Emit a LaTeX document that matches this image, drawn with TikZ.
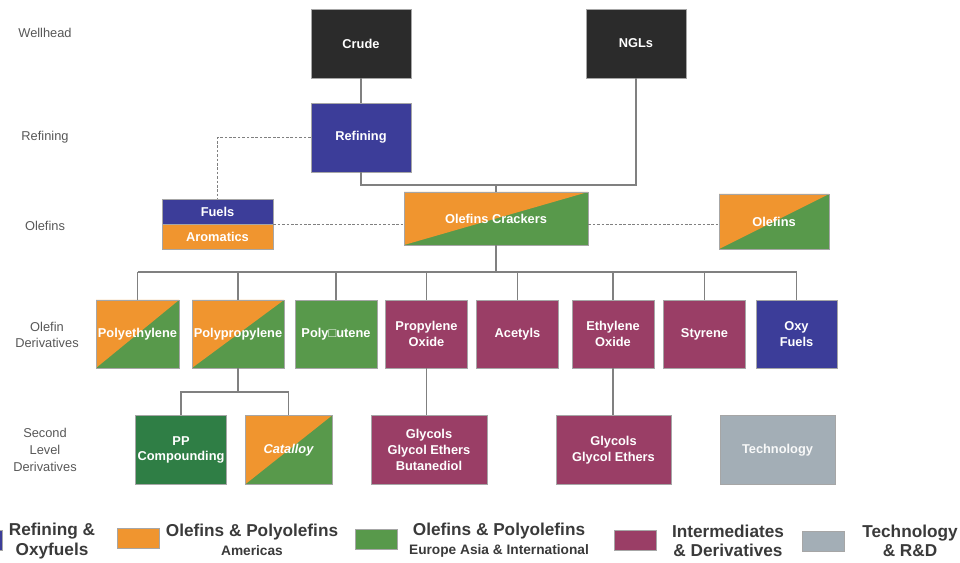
\documentclass[tikz,border=0pt]{standalone}
\usepackage{fontspec}
\setmainfont{Liberation Sans}
\usepackage{xcolor}
\usetikzlibrary{positioning}

\definecolor{cblack}{HTML}{2B2B2B}
\definecolor{cblue}{HTML}{3C3D99}
\definecolor{corange}{HTML}{F0952F}
\definecolor{cgreen}{HTML}{58994B}
\definecolor{cdkgreen}{HTML}{2F7E45}
\definecolor{cmag}{HTML}{9A3E66}
\definecolor{cgray}{HTML}{A3AEB6}
\definecolor{cline}{HTML}{808080}
\definecolor{ctext}{HTML}{3A3A3A}

\begin{document}
\begin{tikzpicture}[x=0.02cm, y=-0.02cm,
    box/.style={draw=black!35, line width=0.4pt, fill=#1, text=white, inner sep=1pt,
        align=center, font=\bfseries\fontsize{7.3}{9}\selectfont},
    split/.style={box=cgreen, path picture={
        \fill[corange] (path picture bounding box.south west) |- (path picture bounding box.north east) -- cycle;}},
    wide/.style={minimum width=#1*0.02cm},
    tall/.style={minimum height=#1*0.02cm},
    link/.style={draw=cline, line width=0.6pt},
    dotlink/.style={draw=cline, line width=0.6pt, dash pattern=on 1.5pt off 1pt},
    rowlabel/.style={text=ctext!85, align=center, font=\fontsize{7.3}{9.5}\selectfont},
    swatch/.style={draw=black!35, fill=#1, minimum width=0.84cm, minimum height=0.4cm, inner sep=0pt},
    legtext/.style={text=ctext, align=center, font=\bfseries\fontsize{9.8}{11}\selectfont}]
  \clip (0,0) rectangle (960,563);

  % row labels
  \node[rowlabel] (lwell) at (45,33) {Wellhead};
  \node[rowlabel] (lref) at (45,137) {Refining};
  \node[rowlabel] (lole) at (45,226) {Olefins};
  \node[rowlabel] (lder) at (47,335) {Olefin\\Derivatives};
  \node[rowlabel] (lsec) at (45,450) {Second\\Level\\Derivatives};

  % wellhead and refining
  \node[box=cblack, wide=100, tall=69] (crude) at (361,43.5) {Crude};
  \node[box=cblack, wide=100, tall=69] (ngl) at (636,43.5) {NGLs};
  \node[box=cblue, wide=100, tall=69] (refining) at (361,137.5) {Refining};

  % olefins
  \node[split, wide=184, tall=53] (crackers) at (496,218.5) {Olefins Crackers};
  \node[box=cblue, wide=111, tall=25] (fuels) at (217.5,211.5) {Fuels};
  \node[box=corange, wide=111, tall=25] (aromatics) at (217.5,236.5) {Aromatics};
  \node[split, wide=110, tall=55] (olefins) at (774,221.5) {Olefins};

  % olefin derivatives
  \node[split, wide=83, tall=68] (pe) at (137.5,334) {Polyethylene};
  \node[split, wide=92, tall=68] (pp) at (238,334) {Polypropylene};
  \node[box=cgreen, wide=82, tall=68] (pb) at (336,334) {Poly□utene};
  \node[box=cmag, wide=82, tall=68] (po) at (426.5,334) {Propylene\\Oxide};
  \node[box=cmag, wide=82, tall=68] (acetyls) at (517.5,334) {Acetyls};
  \node[box=cmag, wide=82, tall=68] (eo) at (613,334) {Ethylene\\Oxide};
  \node[box=cmag, wide=82, tall=68] (styrene) at (704.5,334) {Styrene};
  \node[box=cblue, wide=81, tall=68] (oxy) at (796.5,334) {Oxy\\Fuels};

  % second level derivatives
  \node[box=cdkgreen, wide=90, tall=69] (ppc) at (181,450) {PP\\Compounding};
  \node[split, wide=87, tall=69, font=\bfseries\itshape\fontsize{7.3}{9}\selectfont] (catalloy) at (288.5,450) {Catalloy};
  \node[box=cmag, wide=116, tall=69] (glyc1) at (429,450) {Glycols\\Glycol Ethers\\Butanediol};
  \node[box=cmag, wide=115, tall=69] (glyc2) at (613.5,450) {Glycols\\Glycol Ethers};
  \node[box=cgray, wide=115, tall=69, text=white!92!cgray] (tech) at (777.5,450) {Technology};

  % connectors
  \coordinate (feed) at (496,185);
  \coordinate (bus) at (496,272);
  \coordinate (ppbus) at (237,392);
  \draw[link] (crude) -- (refining);
  \draw[link] (refining.south) |- (feed) -| (ngl.south);
  \draw[link] (feed) -- (crackers.north);
  \draw[link] (crackers.south) -- (bus);
  \draw[link] (pe.north |- bus) -- (oxy.north |- bus);
  \foreach \d in {pe,pp,pb,po,acetyls,eo,styrene,oxy}
    \draw[link] (\d.north |- bus) -- (\d.north);
  \draw[link] (pp.south) -- (pp.south |- ppbus);
  \draw[link] (ppc.north) -- (ppc.north |- ppbus) -- (catalloy.north |- ppbus) -- (catalloy.north);
  \draw[link] (po.south) -- (po.south |- glyc1.north);
  \draw[link] (eo.south) -- (eo.south |- glyc2.north);

  \draw[dotlink] (refining.west) -| (fuels.north);
  \draw[dotlink] (fuels.south east) -- (crackers.west |- fuels.south east);
  \draw[dotlink] (crackers.east |- fuels.south east) -- (olefins.west |- fuels.south east);

  % legend
  \node[swatch=cblue] (kblue) at (-19,540) {};
  \node[legtext] (tblue) at (52,541) {Refining \&\\Oxyfuels};
  \node[swatch=corange] (korange) at (138,538) {};
  \node[legtext] (torange) at (252,540) {Olefins \& Polyolefins\\{\fontsize{7.8}{9}\selectfont Americas}};
  \node[swatch=cgreen] (kgreen) at (376,539.5) {};
  \node[legtext] (tgreen) at (499,540.5) {Olefins \& Polyolefins\\{\fontsize{7.8}{9}\selectfont Europe Asia \& International}};
  \node[swatch=cmag] (kmag) at (635,540) {};
  \node[legtext] (tmag) at (728,541) {Intermediates\\\& Derivatives};
  \node[swatch=cgray] (kgray) at (823,541.5) {};
  \node[legtext] (tgray) at (910,541) {Technology\\\& R\&D};
\end{tikzpicture}
\end{document}
